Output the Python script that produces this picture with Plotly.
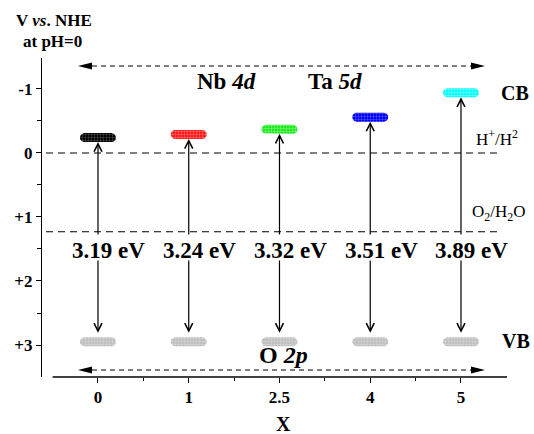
import numpy as np
import plotly.graph_objects as go

# ---- data ----
x_labels = ["0", "1", "2.5", "4", "5"]
cb_levels = [-0.24, -0.29, -0.37, -0.56, -0.94]   # V vs NHE
vb_levels = [2.95, 2.95, 2.95, 2.95, 2.95]
gap_labels = ["3.19 eV", "3.24 eV", "3.32 eV", "3.51 eV", "3.89 eV"]
cb_colors = ["#000000", "#ff1a1a", "#1ee81e", "#0000ff", "#00ffff"]
cb_grid = ["#666666", "#ff8c8c", "#9cff9c", "#7070ff", "#a0ffff"]
vb_color = "#bfbfbf"
vb_grid = "#dedede"
h_redox = 0.0
o_redox = 1.23
y_ticks = [-1, 0, 1, 2, 3]
y_ticktext = ["-1", "0", "+1", "+2", "+3"]

# ---- layout geometry ----
W, H = 534, 434
L, R, T, B = 42, 27, 58, 57
pw, ph = W - L - R, H - T - B
xr = [-0.617, 4.507]
yr = [3.5, -1.484]
sx = pw / (xr[1] - xr[0])          # px per x unit
sy = ph / (yr[0] - yr[1])          # px per y unit
FONT = "Liberation Serif"

xi = list(range(len(x_labels)))


def pill(cx, cy, hw=18.0, r=4.5, n=14):
    xs, ys = [], []
    for t in np.linspace(-np.pi / 2, np.pi / 2, n):
        xs.append(cx + (hw - r + r * np.cos(t)) / sx)
        ys.append(cy + r * np.sin(t) / sy)
    for t in np.linspace(np.pi / 2, 3 * np.pi / 2, n):
        xs.append(cx + (-(hw - r) + r * np.cos(t)) / sx)
        ys.append(cy + r * np.sin(t) / sy)
    xs.append(xs[0]); ys.append(ys[0])
    return xs, ys


fig = go.Figure()

for i, (c, v) in enumerate(zip(cb_levels, vb_levels)):
    for lvl, col, gcol in ((c, cb_colors[i], cb_grid[i]), (v, vb_color, vb_grid)):
        px_, py_ = pill(xi[i], lvl)
        fig.add_trace(go.Scatter(
            x=px_, y=py_, mode="lines", fill="toself",
            line=dict(width=0, color=col), fillcolor=col,
            fillpattern=dict(shape="+", size=3, solidity=0.25,
                             fgcolor=gcol, bgcolor=col, fillmode="replace"),
            hoverinfo="skip", showlegend=False))

shapes = []
annotations = []

# redox dashed lines
for lvl in (h_redox, o_redox):
    shapes.append(dict(type="line", xref="x", yref="y",
                       x0=xr[0] + 4 / sx, x1=xr[0] + 458 / sx, y0=lvl, y1=lvl,
                       line=dict(color="black", width=1.1, dash="7px,5px")))

# x axis line (offset from y axis)
shapes.append(dict(type="line", xref="x", yref="paper", x0=-0.5, x1=xr[1],
                   y0=0, y1=0, line=dict(color="black", width=1.3)))


def px2x(p):
    return xr[0] + (p - L) / sx


def py2y(p):
    return yr[1] + (p - T) / sy


# double dashed arrows (top: Nb/Ta d, bottom: O 2p)
for ypix in (66, 370):
    yy = py2y(ypix)
    xl, xrgt = px2x(78), px2x(485)
    alen, ahh = 14 / sx, 3.5 / sy
    shapes.append(dict(type="line", xref="x", yref="y", x0=xl + alen, x1=xrgt - alen,
                       y0=yy, y1=yy, line=dict(color="black", width=1.1, dash="5px,4px")))
    shapes.append(dict(type="path", xref="x", yref="y",
                       path=f"M{xl},{yy} L{xl + alen},{yy - ahh} L{xl + alen},{yy + ahh} Z",
                       fillcolor="black", line=dict(width=0)))
    shapes.append(dict(type="path", xref="x", yref="y",
                       path=f"M{xrgt},{yy} L{xrgt - alen},{yy - ahh} L{xrgt - alen},{yy + ahh} Z",
                       fillcolor="black", line=dict(width=0)))

# vertical arrows and gap labels
lab_y = py2y(250)
for i, (c, v) in enumerate(zip(cb_levels, vb_levels)):
    annotations.append(dict(x=xi[i], y=c + 4.5 / sy, ax=xi[i], ay=py2y(236),
                            xref="x", yref="y", axref="x", ayref="y", text="",
                            showarrow=True, arrowhead=5, arrowsize=1.3, arrowwidth=1.2,
                            arrowcolor="black", standoff=0))
    annotations.append(dict(x=xi[i], y=v - 9 / sy, ax=xi[i], ay=py2y(259),
                            xref="x", yref="y", axref="x", ayref="y", text="",
                            showarrow=True, arrowhead=5, arrowsize=1.3, arrowwidth=1.2,
                            arrowcolor="black", standoff=0))
    annotations.append(dict(x=xi[i], y=lab_y, xref="x", yref="y", xshift=11,
                            xanchor="center", yanchor="middle",
                            text=f"<b>{gap_labels[i]}</b>", showarrow=False,
                            font=dict(family=FONT, size=23, color="black")))


def txt(xp, yp, s, size, **kw):
    annotations.append(dict(x=(xp - L) / pw, y=(H - B - yp) / ph, xref="paper", yref="paper",
                            xanchor="center", yanchor="middle",
                            text=s, showarrow=False,
                            font=dict(family=FONT, size=size, color="black"), **kw))


txt(226, 81, "<b>Nb <i>4d</i></b>", 23)
txt(335, 81, "<b>Ta <i>5d</i></b>", 23)
txt(283, 355, "<b>O <i>2p</i></b>", 24)
txt(515, 93, "<b>CB</b>", 20)
txt(516, 341, "<b>VB</b>", 20)
txt(497, 138, "H<sup>+</sup>/H<sup>2</sup>", 17)
txt(498, 213, "O<sub>2</sub>/H<sub>2</sub>O", 17)
txt(54, 21, "<b>V <i>vs</i>. NHE</b>", 17)
txt(52, 42, "<b>at pH=0</b>", 17)
txt(283, 424, "<b>X</b>", 20)

fig.update_layout(
    width=W, height=H,
    margin=dict(l=L, r=R, t=T, b=B),
    paper_bgcolor="white", plot_bgcolor="white",
    showlegend=False,
    shapes=shapes, annotations=annotations,
    xaxis=dict(range=xr, tickvals=xi, ticktext=x_labels, showline=False,
               showgrid=False, zeroline=False, ticks="outside", ticklen=5,
               tickwidth=1.2, tickcolor="black",
               tickfont=dict(family=FONT, size=17, color="black", weight="bold"),
               minor=dict(tickvals=[0.5, 1.5, 2.5, 3.5], ticks="outside", ticklen=3,
                          tickcolor="black", tickwidth=1)),
    yaxis=dict(range=yr, tickvals=y_ticks, ticktext=y_ticktext, showline=True,
               linecolor="black", linewidth=1.3, showgrid=False, zeroline=False,
               ticks="outside", ticklen=5, tickwidth=1.2, tickcolor="black",
               tickfont=dict(family=FONT, size=17, color="black", weight="bold"),
               minor=dict(tickvals=[-0.5, 0.5, 1.5, 2.5], ticks="outside", ticklen=4,
                          tickcolor="black", tickwidth=1)),
)

fig.write_html("out.html", config={"displayModeBar": False},
               post_script="document.body.style.margin='0';document.body.style.overflow='hidden';")
